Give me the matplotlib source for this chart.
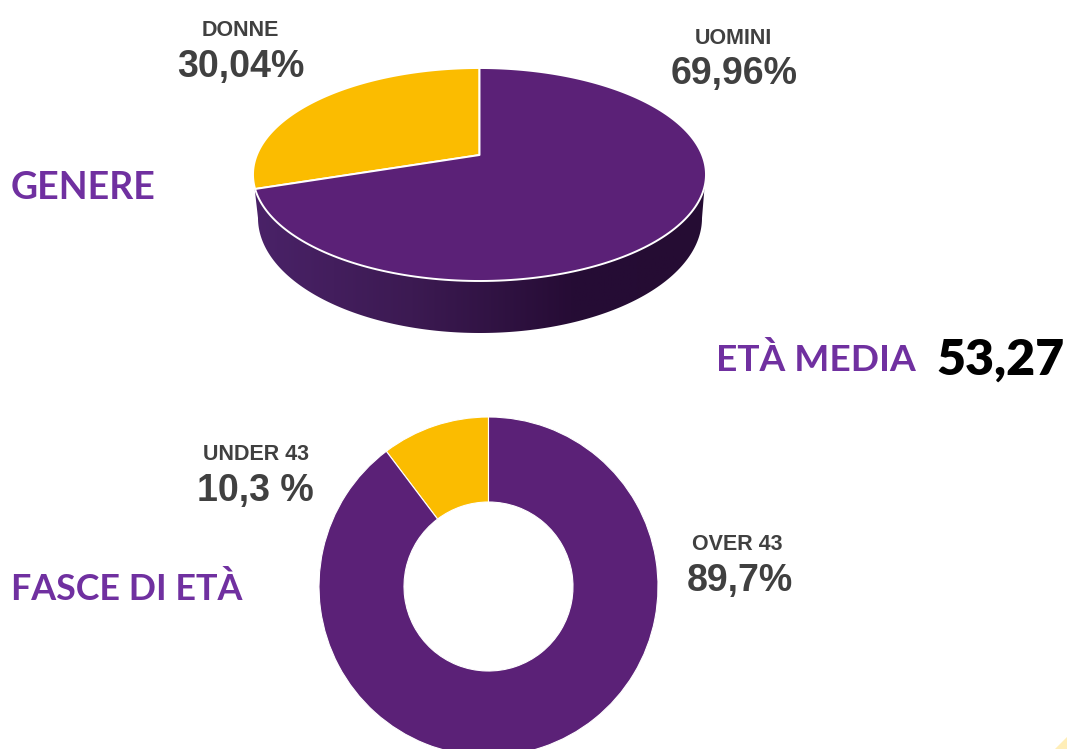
import numpy as np
import matplotlib
matplotlib.use("Agg")
import matplotlib.pyplot as plt
from matplotlib.patches import Polygon
from matplotlib.colors import LinearSegmentedColormap

W = 1067
H = 749

# data
genere_labels = ["DONNE", "UOMINI"]
genere_values = [30.04, 69.96]
genere_text = ["30,04%", "69,96%"]
fasce_labels = ["UNDER 43", "OVER 43"]
fasce_values = [10.3, 89.7]
fasce_text = ["10,3 %", "89,7%"]
eta_media = "53,27"

PURPLE = "#5b2177"
YELLOW = "#fbbc00"
TITLE = "#7030a0"
GREY = "#404040"
ARIAL = "Liberation Sans"
CALIBRI = "Lato"

fig = plt.figure(figsize=(W / 100, H / 100), dpi=100, facecolor="white")
ax = fig.add_axes([0, 0, 1, 1])


def yy(y):
    # picture pixels run downwards
    return H - y


# 3D pie: circle seen in perspective, k moves the centre above the ellipse centre
cx, cy, rx, ry = 479.5, 174.5, 226.5, 106.5
k = 0.183


def top_point(a):
    # a in degrees, counterclockwise from 12 o'clock
    u = -np.sin(np.radians(a))
    v = np.cos(np.radians(a))
    d = 1 + k * v
    return cx + rx * u * np.sqrt(1 - k ** 2) / d, yy(cy - ry * (v + k) / d)


centre = (cx, yy(cy - ry * k))

# side of the pie
t = np.linspace(0, np.pi, 200)
bx, by, brx, bry = 480, 218, 222, 115
upper = np.column_stack([cx - rx * np.cos(t), yy(cy + ry * np.sin(t))])
lower = np.column_stack([bx + brx * np.cos(t), yy(by + bry * np.sin(t))])
side = np.vstack([upper[upper[:, 1] <= yy(186)], lower])
side_patch = Polygon(side, closed=True, facecolor="none", edgecolor="none")
ax.add_patch(side_patch)
side_cmap = LinearSegmentedColormap.from_list(
    "side", [(0, "#4a2268"), (0.35, "#3c1a52"), (0.7, "#260c35"), (1, "#250c33")]
)
grad = ax.imshow(
    np.linspace(0, 1, 256).reshape(1, -1), cmap=side_cmap, aspect="auto",
    extent=[254, 706, yy(335), yy(180)], zorder=1,
)
grad.set_clip_path(side_patch)

# top of the pie
angle = 0
colors = [YELLOW, PURPLE]
for value, color in zip(genere_values, colors):
    span = value / sum(genere_values) * 360
    a = np.linspace(angle, angle + span, 200)
    px, py = top_point(a)
    pts = np.vstack([[centre], np.column_stack([px, py])])
    ax.add_patch(Polygon(pts, closed=True, facecolor=color, edgecolor="white",
                         linewidth=1.4, zorder=2, joinstyle="round"))
    angle += span

# donut
ax.pie(
    fasce_values, colors=[YELLOW, PURPLE], startangle=90, counterclock=True,
    center=(488.5, yy(586.5)), radius=169.5,
    wedgeprops=dict(width=85, edgecolor="white", linewidth=0.8),
    frame=True,
)

# corner mark
ax.add_patch(Polygon([(1055, yy(749)), (1067, yy(737)), (1067, yy(749))],
                     closed=True, facecolor="#ffeeb8", edgecolor="none"))

ax.set_xlim(0, W)
ax.set_ylim(0, H)
ax.set_aspect("auto")
ax.axis("off")


def label(x, y, s, size, color=GREY, family=ARIAL, ha="center", weight="bold"):
    ax.text(x, yy(y), s, fontsize=size, color=color, family=family,
            fontweight=weight, ha=ha, va="center")


label(240, 30, genere_labels[0], 15.5)
label(241, 67, genere_text[0], 27)
label(733, 38, genere_labels[1], 15.5)
label(734, 74, genere_text[1], 27)
label(256, 454, fasce_labels[0], 15.5)
label(255, 491, fasce_text[0], 27)
label(737, 545, fasce_labels[1], 15.5)
label(740, 581, fasce_text[1], 27)

label(11, 188, "GENERE", 27, TITLE, CALIBRI, "left")
label(11, 589, "FASCE DI ETÀ", 25.8, TITLE, CALIBRI, "left")
label(716, 360, "ETÀ MEDIA", 26.7, TITLE, CALIBRI, "left")
label(936, 360, eta_media, 36, "black", CALIBRI, "left", "heavy")

fig.savefig("out.png", dpi=100, facecolor="white")
